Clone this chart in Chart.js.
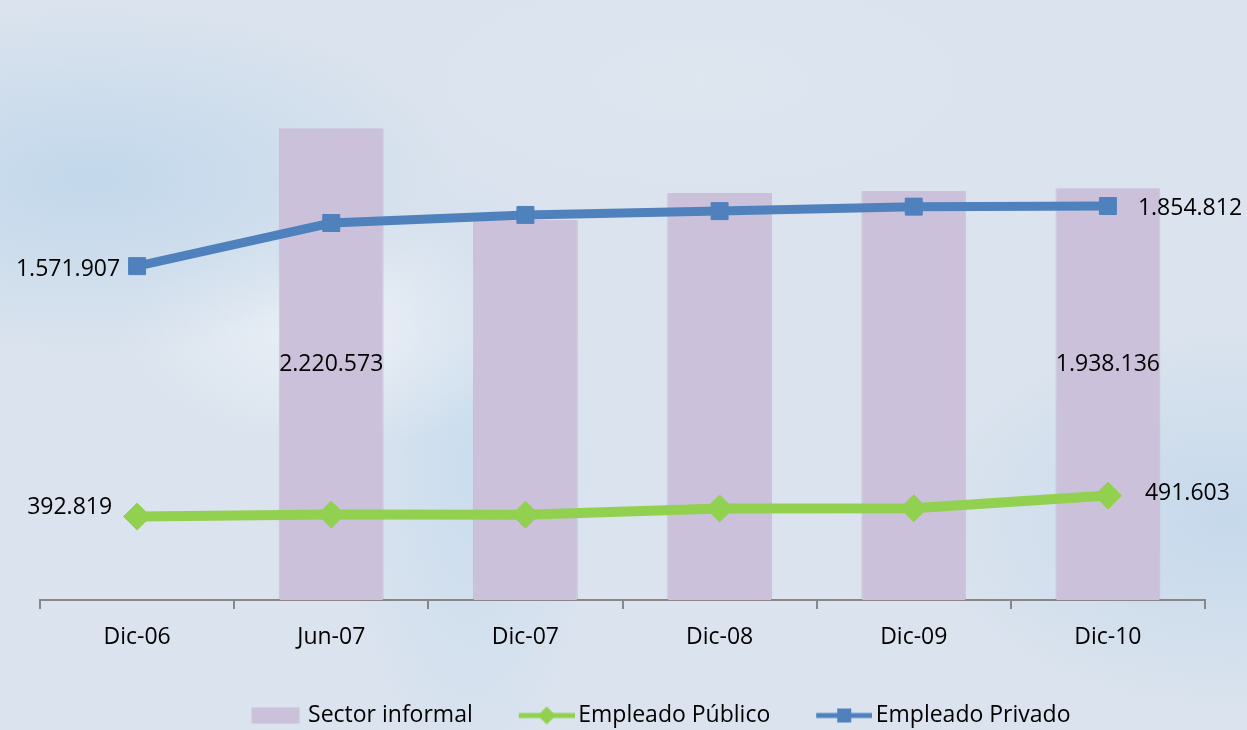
<!DOCTYPE html>
<html>
<head>
<meta charset="utf-8">
<script src="https://cdn.jsdelivr.net/npm/chart.js@4/dist/chart.umd.min.js"></script>
<style>
html, body { margin: 0; padding: 0; }
body {
    width: 1247px; height: 730px; overflow: hidden;
    background:
        radial-gradient(ellipse 520px 240px at 90px 180px, rgba(193,215,235,0.95), rgba(193,215,235,0) 72%),
        radial-gradient(ellipse 300px 170px at 330px 330px, rgba(236,241,247,0.9), rgba(236,241,247,0) 70%),
        radial-gradient(ellipse 170px 420px at 470px 470px, rgba(200,220,238,0.85), rgba(200,220,238,0) 72%),
        radial-gradient(ellipse 420px 260px at 1230px 520px, rgba(194,215,235,0.85), rgba(194,215,235,0) 72%),
        radial-gradient(ellipse 500px 200px at 700px 80px, rgba(222,230,240,0.9), rgba(222,230,240,0) 70%),
        #dae3ee;
}
#wrap { position: relative; width: 1247px; height: 730px; }
</style>
</head>
<body>
<div id="wrap"><canvas id="graph"></canvas></div>
<script>
var categories = ['Dic-06', 'Jun-07', 'Dic-07', 'Dic-08', 'Dic-09', 'Dic-10'];
var sectorInformal = [null, 2220573, 1789000, 1916000, 1926000, 1938136];
var empleadoPublico = [392819, 402000, 401000, 431000, 432000, 491603];
var empleadoPrivado = [1571907, 1775000, 1813000, 1831000, 1852000, 1854812];

var FONT = "'Open Sans', 'Noto Sans', sans-serif";
var purple = '#cbc1db', green = '#92d050', blue = '#4f81bd';

function fmt(v) {
    return String(v).replace(/\B(?=(\d{3})+(?!\d))/g, '.');
}

// small icons for the legend (wider than the legend box, so they reach the text)
function icon(kind) {
    var c = document.createElement('canvas');
    c.width = 72; c.height = 20;
    var g = c.getContext('2d');
    if (kind == 'bar') {
        g.fillStyle = purple;
        g.fillRect(19, 2, 48, 16);
    } else {
        g.strokeStyle = kind == 'green' ? green : blue;
        g.fillStyle = g.strokeStyle;
        g.lineWidth = 5;
        g.beginPath(); g.moveTo(16, 10); g.lineTo(72, 10); g.stroke();
        g.beginPath();
        if (kind == 'green') {
            g.moveTo(44, 1); g.lineTo(53, 10); g.lineTo(44, 19); g.lineTo(35, 10);
        } else {
            g.rect(37, 3, 14, 14);
        }
        g.fill();
    }
    return c;
}

// which values get a label, and where
var valueLabels = [
    { ds: 0, i: 1, align: 'center', mid: true },
    { ds: 0, i: 5, align: 'center', mid: true },
    { ds: 1, i: 0, align: 'right', dx: -25, dy: -9 },
    { ds: 1, i: 5, align: 'left', dx: 37, dy: -2 },
    { ds: 2, i: 0, align: 'right', dx: -17, dy: 3 },
    { ds: 2, i: 5, align: 'left', dx: 30, dy: 2 }
];

var labelPlugin = {
    id: 'valueLabels',
    afterLayout: function(chart) {
        // legend row sits a bit right of centre in the original
        chart.legend.left += 33;
        chart.legend.right += 33;
    },
    afterDatasetsDraw: function(chart) {
        var ctx = chart.ctx;
        ctx.save();
        ctx.font = '23px ' + FONT;
        ctx.fillStyle = '#000';
        ctx.textBaseline = 'middle';
        valueLabels.forEach(function(l) {
            var el = chart.getDatasetMeta(l.ds).data[l.i];
            var v = chart.data.datasets[l.ds].data[l.i];
            var x = el.x, y;
            if (l.mid) {
                y = chart.scales.y.getPixelForValue(1110000);
            } else {
                x += l.dx; y = el.y + l.dy;
            }
            ctx.textAlign = l.align;
            ctx.fillText(fmt(v), x, y);
        });
        ctx.restore();
    }
};

var ctx = document.getElementById('graph').getContext('2d');
var chart = new Chart(ctx, {
    type: 'bar',
    data: {
        labels: categories,
        datasets: [{
            type: 'bar',
            label: 'Sector informal',
            data: sectorInformal,
            backgroundColor: purple,
            borderColor: 'rgba(150,150,170,0.35)',
            borderWidth: { left: 1, right: 1, top: 0, bottom: 0 },
            barPercentage: 0.54,
            categoryPercentage: 1,
            order: 3
        }, {
            type: 'line',
            label: 'Empleado Público',
            data: empleadoPublico,
            borderColor: green,
            backgroundColor: green,
            borderWidth: 10,
            pointStyle: 'rectRot',
            pointRadius: 13.5,
            pointBorderWidth: 1,
            tension: 0,
            order: 2
        }, {
            type: 'line',
            label: 'Empleado Privado',
            data: empleadoPrivado,
            borderColor: blue,
            backgroundColor: blue,
            borderWidth: 9,
            pointStyle: 'rect',
            pointRadius: 12,
            pointBorderWidth: 1,
            tension: 0,
            order: 1
        }]
    },
    options: {
        responsive: true,
        maintainAspectRatio: false,
        animation: false,
        layout: { padding: { left: 40, right: 42, top: 69, bottom: -7 } },
        scales: {
            x: {
                offset: true,
                grid: { display: true, drawOnChartArea: false, offset: true, tickLength: 9, color: '#878787', lineWidth: 2 },
                border: { color: '#878787', width: 2 },
                ticks: { color: '#000', font: { family: FONT, size: 23 }, padding: 15 },
                afterFit: function(scale) { scale.height = 66; }
            },
            y: { display: false, min: 0, max: 2500000 }
        },
        plugins: {
            tooltip: { enabled: false },
            legend: {
                position: 'bottom',
                labels: {
                    color: '#000',
                    font: { family: FONT, size: 23 },
                    usePointStyle: true,
                    pointStyleWidth: 56,
                    padding: 38,
                    generateLabels: function(chart) {
                        var kinds = ['bar', 'green', 'blue'];
                        return chart.data.datasets.map(function(d, i) {
                            return { text: d.label, pointStyle: icon(kinds[i]), datasetIndex: i, fontColor: '#000', lineWidth: 0, strokeStyle: 'rgba(0,0,0,0)', fillStyle: 'rgba(0,0,0,0)' };
                        });
                    }
                }
            }
        }
    },
    plugins: [labelPlugin]
});
</script>
</body>
</html>
